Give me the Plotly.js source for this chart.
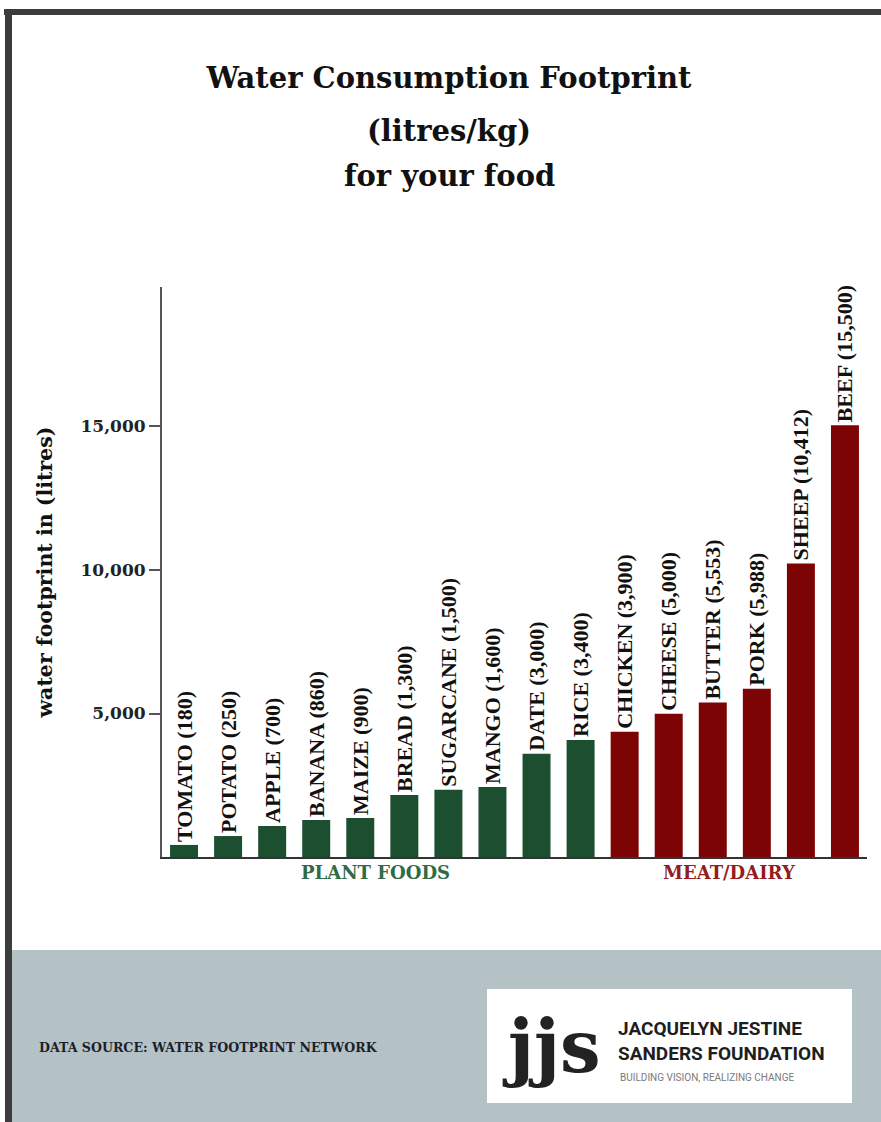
<!DOCTYPE html>
<html>
<head>
<meta charset="utf-8">
<script src="https://cdn.plot.ly/plotly-3.0.1.min.js"></script>
<style>
  html, body { margin: 0; padding: 0; background: #ffffff; }
  #chart { width: 881px; height: 1122px; }
</style>
</head>
<body>
<div id="chart"></div>
<script>
// ---- Data ----
const plantFoods   = ['TOMATO', 'POTATO', 'APPLE', 'BANANA', 'MAIZE', 'BREAD', 'SUGARCANE', 'MANGO', 'DATE', 'RICE'];
const plantStated  = ['180', '250', '700', '860', '900', '1,300', '1,500', '1,600', '3,000', '3,400'];
const plantHeights = [420, 730, 1080, 1290, 1360, 2160, 2340, 2440, 3600, 4080];

const meatFoods    = ['CHICKEN', 'CHEESE', 'BUTTER', 'PORK', 'SHEEP', 'BEEF'];
const meatStated   = ['3,900', '5,000', '5,553', '5,988', '10,412', '15,500'];
const meatHeights  = [4360, 4990, 5380, 5860, 10230, 15040];

const yTickVals  = [5000, 10000, 15000];
const yTickText  = ['5,000', '10,000', '15,000'];

const groupNames = ['PLANT FOODS', 'MEAT/DAIRY'];

// ---- Layout geometry (pixels) ----
const W = 881, H = 1122;
const plotL = 162, plotR = 867, plotT = 287, plotB = 857;
const px = v => (v - plotL) / (plotR - plotL);
const py = v => (plotB - v) / (plotB - plotT);

const serif = 'DejaVu Serif';
const labelFont = { family: 'Liberation Serif', size: 22, color: '#111111', weight: 700 };

const allFoods = plantFoods.concat(meatFoods);

const plantTrace = {
  type: 'bar',
  x: plantFoods,
  y: plantHeights,
  text: plantFoods.map((n, i) => '<b>' + n + ' (' + plantStated[i] + ')</b>'),
  textposition: 'outside',
  textangle: -90,
  constraintext: 'none',
  cliponaxis: false,
  textfont: labelFont,
  marker: { color: '#1c4f2f' },
  hoverinfo: 'x+y',
  name: groupNames[0]
};
const meatTrace = {
  type: 'bar',
  x: meatFoods,
  y: meatHeights,
  text: meatFoods.map((n, i) => '<b>' + n + ' (' + meatStated[i] + ')</b>'),
  textposition: 'outside',
  textangle: -90,
  constraintext: 'none',
  cliponaxis: false,
  textfont: labelFont,
  marker: { color: '#7d0404' },
  hoverinfo: 'x+y',
  name: groupNames[1]
};

const layout = {
  width: W, height: H,
  margin: { l: plotL, r: W - plotR, t: plotT, b: H - plotB, pad: 0 },
  paper_bgcolor: '#ffffff',
  plot_bgcolor: '#ffffff',
  showlegend: false,
  barmode: 'overlay',
  bargap: 0.365,
  title: {
    text: 'Water Consumption Footprint',
    font: { family: serif, size: 29, color: '#111111', weight: 'bold' },
    xref: 'container', x: 449 / W, xanchor: 'center',
    yref: 'container', y: 1 - 78 / H, yanchor: 'middle'
  },
  xaxis: {
    type: 'category',
    categoryorder: 'array',
    categoryarray: allFoods,
    range: [-0.5, allFoods.length - 0.5],
    showticklabels: false,
    ticks: '',
    showgrid: false,
    zeroline: false,
    showline: true,
    linecolor: '#333333',
    linewidth: 2,
    fixedrange: true
  },
  yaxis: {
    range: [0, 19860],
    tickvals: yTickVals,
    ticktext: yTickText,
    ticks: 'outside',
    ticklen: 11,
    tickwidth: 2,
    tickcolor: '#555555',
    tickfont: { family: serif, size: 17, color: '#222222', weight: 'bold' },
    showgrid: false,
    zeroline: false,
    showline: true,
    linecolor: '#555555',
    linewidth: 2,
    fixedrange: true,
    title: {
      text: 'water footprint in (litres)',
      font: { family: serif, size: 20.5, color: '#111111', weight: 'bold' },
      standoff: 22
    }
  },
  shapes: [
    // footer band
    { type: 'rect', xref: 'paper', yref: 'paper', layer: 'below',
      x0: px(12), x1: px(W + 2), y0: py(950), y1: py(H + 2),
      fillcolor: '#b4c1c5', line: { width: 0 } },
    // logo box
    { type: 'rect', xref: 'paper', yref: 'paper', layer: 'below',
      x0: px(487), x1: px(852), y0: py(989), y1: py(1103),
      fillcolor: '#ffffff', line: { width: 0 } },
    // frame: top
    { type: 'rect', xref: 'paper', yref: 'paper', layer: 'above',
      x0: px(4), x1: px(W + 2), y0: py(9), y1: py(15),
      fillcolor: '#3c3c3c', line: { width: 0 } },
    // frame: left
    { type: 'rect', xref: 'paper', yref: 'paper', layer: 'above',
      x0: px(5), x1: px(12), y0: py(9), y1: py(H + 2),
      fillcolor: '#3c3c3c', line: { width: 0 } }
  ],
  annotations: [
    { text: '(litres/kg)', xref: 'paper', yref: 'paper', x: px(449), y: py(131),
      xanchor: 'center', yanchor: 'middle', showarrow: false,
      font: { family: serif, size: 29, color: '#111111', weight: 'bold' } },
    { text: 'for your food', xref: 'paper', yref: 'paper', x: px(449), y: py(176),
      xanchor: 'center', yanchor: 'middle', showarrow: false,
      font: { family: serif, size: 29, color: '#111111', weight: 'bold' } },
    { text: groupNames[0], xref: 'paper', yref: 'paper', x: px(375), y: py(872),
      xanchor: 'center', yanchor: 'middle', showarrow: false,
      font: { family: serif, size: 18, color: '#2f6b45', weight: 'bold' } },
    { text: groupNames[1], xref: 'paper', yref: 'paper', x: px(729), y: py(872),
      xanchor: 'center', yanchor: 'middle', showarrow: false,
      font: { family: serif, size: 18, color: '#931c1f', weight: 'bold' } },
    { text: 'DATA SOURCE: WATER FOOTPRINT NETWORK', xref: 'paper', yref: 'paper',
      x: px(37), y: py(1047), xanchor: 'left', yanchor: 'middle', showarrow: false,
      font: { family: serif, size: 12.6, color: '#1d1f2b', weight: 'bold' } },
    { text: 'jjs', xref: 'paper', yref: 'paper', x: px(551), y: py(1046),
      xanchor: 'center', yanchor: 'middle', showarrow: false,
      font: { family: serif, size: 72, color: '#222222', weight: 'bold' } },
    { text: 'JACQUELYN JESTINE<br>SANDERS FOUNDATION', xref: 'paper', yref: 'paper',
      x: px(616), y: py(1041), xanchor: 'left', yanchor: 'middle', align: 'left', showarrow: false,
      font: { family: 'Roboto', size: 19, color: '#1e1e1e', weight: 'bold' } },
    { text: 'BUILDING VISION, REALIZING CHANGE', xref: 'paper', yref: 'paper',
      x: px(618), y: py(1077), xanchor: 'left', yanchor: 'middle', showarrow: false,
      font: { family: 'Roboto', size: 10, color: '#7a7a7a' } }
  ]
};

Plotly.newPlot('chart', [plantTrace, meatTrace], layout, { staticPlot: true, displayModeBar: false });
</script>
</body>
</html>
